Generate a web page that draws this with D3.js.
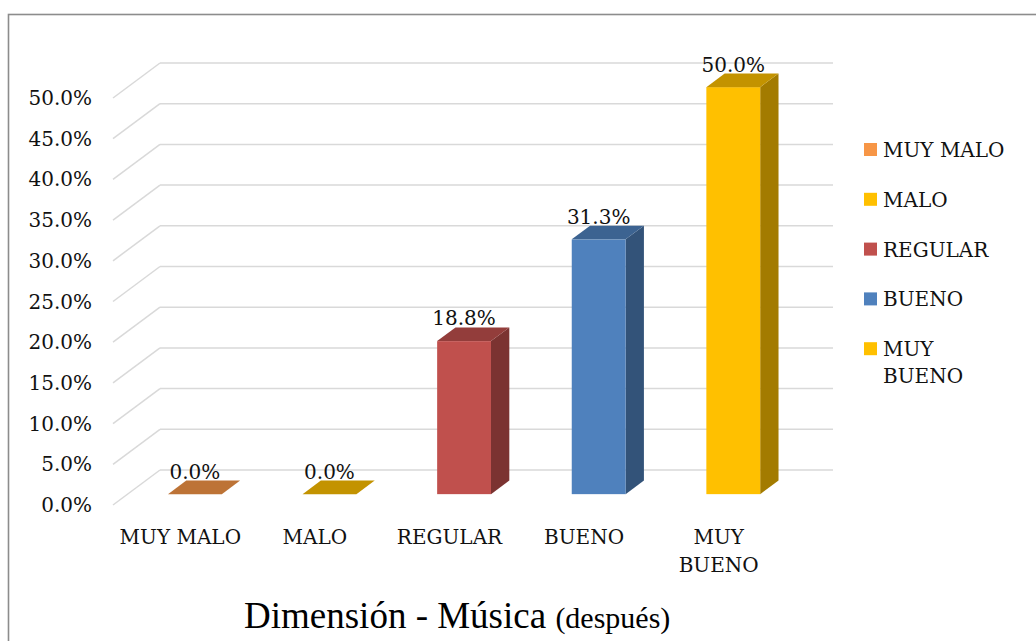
<!DOCTYPE html>
<meta charset="utf-8">
<head>
</head>
<body style="margin:0;background:#fff">
<style>
.grid line {
  stroke: #d9d9d9;
  stroke-width: 1.5px;
}
text {
  font-family: "DejaVu Serif", serif;
  font-size: 20px;
  fill: #111;
}
</style>
<svg width="1036" height="641"></svg>
<script src="https://cdn.jsdelivr.net/npm/d3@7"></script>
<script>
var categories = ["MUY MALO", "MALO", "REGULAR", "BUENO", "MUY BUENO"];
var values = [0.0, 0.0, 0.188, 0.313, 0.50];
var colors = ["#F79646", "#FFC000", "#C0504D", "#4F81BD", "#FFC000"];
var yTicks = [0, 0.05, 0.10, 0.15, 0.20, 0.25, 0.30, 0.35, 0.40, 0.45, 0.50];
var title = "Dimensión - Música";
var subtitle = "(después)";

var svg = d3.select("svg");

// outer frame
svg.append("rect")
  .attr("x", 8.5).attr("y", 14.5)
  .attr("width", 1040).attr("height", 640)
  .attr("fill", "none")
  .attr("stroke", "#8c8c8c")
  .attr("stroke-width", 1.6);

// 3d depth of the floor and of the bars
var depthX = 47, depthY = -35;
var barOff = 0.31, barDepth = 0.39;

var x = d3.scaleBand()
  .domain(categories)
  .range([113, 786])
  .paddingInner(0.6)
  .paddingOuter(0.3);

var y = d3.scaleLinear()
  .domain([0, 0.5])
  .range([505, 98]);

var fmt = d3.format(".1%");

// gridlines: left wall diagonal + back wall line
var grid = svg.append("g").attr("class", "grid");
yTicks.forEach(function(t) {
  grid.append("line")
    .attr("x1", 113).attr("y1", y(t))
    .attr("x2", 113 + depthX).attr("y2", y(t) + depthY);
  grid.append("line")
    .attr("x1", 113 + depthX).attr("y1", y(t) + depthY)
    .attr("x2", 786 + depthX).attr("y2", y(t) + depthY);
});

// y tick labels
svg.append("g").selectAll("text")
  .data(yTicks)
  .enter().append("text")
  .attr("x", 92)
  .attr("y", function(d) { return y(d); })
  .attr("dy", "0.35em")
  .attr("text-anchor", "end")
  .text(function(d) { return fmt(d); });

// bars
var bars = svg.append("g").selectAll("g")
  .data(categories)
  .enter().append("g");

bars.each(function(c, i) {
  var g = d3.select(this);
  var ox = depthX * barOff, oy = depthY * barOff;
  var dx = depthX * barDepth, dy = depthY * barDepth;
  var x0 = x(c) + ox, x1 = x0 + x.bandwidth();
  var yb = y(0) + oy, yt = y(values[i]) + oy;
  var base = d3.color(colors[i]);
  if (values[i] > 0) {
    g.append("path")
      .attr("d", "M" + x1 + "," + yb + "L" + (x1 + dx) + "," + (yb + dy) +
        "L" + (x1 + dx) + "," + (yt + dy) + "L" + x1 + "," + yt + "Z")
      .attr("fill", base.darker(1.25));
    g.append("rect")
      .attr("x", x0).attr("y", yt)
      .attr("width", x.bandwidth()).attr("height", yb - yt)
      .attr("fill", base);
  }
  g.append("path")
    .attr("d", "M" + x0 + "," + yt + "L" + x1 + "," + yt +
      "L" + (x1 + dx) + "," + (yt + dy) + "L" + (x0 + dx) + "," + (yt + dy) + "Z")
    .attr("fill", base.darker(0.75));
  // data label
  g.append("text")
    .attr("x", x0 + x.bandwidth() / 2)
    .attr("y", yt + dy - 2)
    .attr("text-anchor", "middle")
    .text(fmt(values[i]));
});

// category labels
svg.append("g").selectAll("text")
  .data(categories)
  .enter().append("text")
  .attr("x", function(d) { return x(d) + x.bandwidth() / 2; })
  .attr("y", 544)
  .attr("text-anchor", "middle")
  .each(function(d) {
    var t = d3.select(this);
    var words = d === "MUY BUENO" ? ["MUY", "BUENO"] : [d];
    words.forEach(function(w, k) {
      t.append("tspan")
        .attr("x", x(d) + x.bandwidth() / 2)
        .attr("dy", k === 0 ? 0 : 28)
        .text(w);
    });
  });

// legend
var legend = svg.append("g").selectAll("g")
  .data(categories)
  .enter().append("g")
  .attr("transform", function(d, i) { return "translate(864," + (150 + i * 49.8) + ")"; });

legend.append("rect")
  .attr("x", 0).attr("y", -7)
  .attr("width", 13).attr("height", 13)
  .attr("fill", function(d, i) { return colors[i]; });

legend.append("text")
  .attr("x", 19)
  .attr("y", 7)
  .each(function(d) {
    var t = d3.select(this);
    var words = d === "MUY BUENO" ? ["MUY", "BUENO"] : [d];
    words.forEach(function(w, k) {
      t.append("tspan")
        .attr("x", 19)
        .attr("dy", k === 0 ? 0 : 27)
        .text(w);
    });
  });

// title
var tt = svg.append("text")
  .attr("x", 244)
  .attr("y", 628)
  .style("font-family", "'Liberation Serif', 'Times New Roman', serif")
  .style("font-size", "37px")
  .style("fill", "#000");
tt.append("tspan").text(title + " ");
tt.append("tspan").style("font-size", "30px").text(subtitle);
</script>
</body>
